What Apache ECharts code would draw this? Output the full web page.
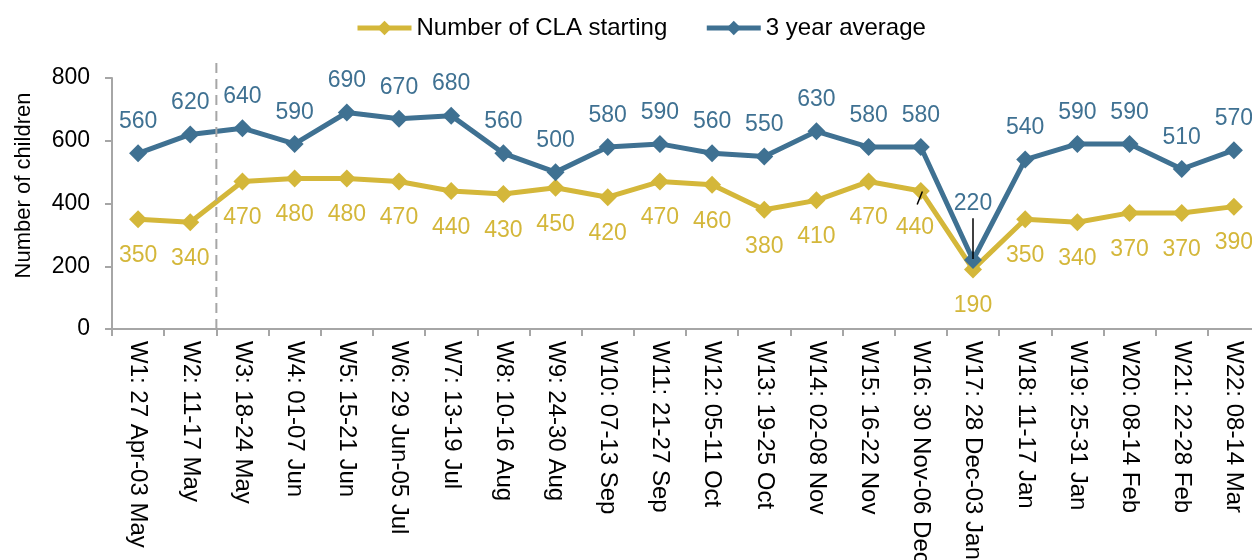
<!DOCTYPE html>
<html>
<head>
<meta charset="utf-8">
<script src="https://cdn.jsdelivr.net/npm/echarts@6/dist/echarts.min.js"></script>
<style>
html,body{margin:0;padding:0;background:#fff;}
#chart{width:1252px;height:560px;}
</style>
</head>
<body>
<div id="chart"></div>
<script>
const categories = ["W1: 27 Apr-03 May","W2: 11-17 May","W3: 18-24 May","W4: 01-07 Jun","W5: 15-21 Jun","W6: 29 Jun-05 Jul","W7: 13-19 Jul","W8: 10-16 Aug","W9: 24-30 Aug","W10: 07-13 Sep","W11: 21-27 Sep","W12: 05-11 Oct","W13: 19-25 Oct","W14: 02-08 Nov","W15: 16-22 Nov","W16: 30 Nov-06 Dec","W17: 28 Dec-03 Jan","W18: 11-17 Jan","W19: 25-31 Jan","W20: 08-14 Feb","W21: 22-28 Feb","W22: 08-14 Mar"];
const claStarting = [350,340,470,480,480,470,440,430,450,420,470,460,380,410,470,440,190,350,340,370,370,390];
const threeYearAvg = [560,620,640,590,690,670,680,560,500,580,590,560,550,630,580,580,220,540,590,590,510,570];
const yTicks = [0,200,400,600,800];
// annotation lines in data units: [x0, y0, x1, y1]
const dividerLine = [1.5, 848, 1.5, 0];
const leaderLines = [[14.93, 397, 15.03, 438], [16, 223, 16, 353]];

const FONT = 'Liberation Sans, Arial, sans-serif';
const YELLOW = '#D4B73A';
const BLUE = '#3F7192';
const AXIS = '#A6A6A6';

const yellowData = claStarting.map((v,i)=>{
  if (i === 15) return {value:v, label:{offset:[-6,0]}};
  return v;
});
const blueData = threeYearAvg.map((v,i)=>{
  if (i === 16) return {value:v, label:{distance:36}};
  return v;
});

const annotationData = [dividerLine.concat([0])].concat(leaderLines.map(l=>l.concat([1])));

const chart = echarts.init(document.getElementById('chart'), null, {renderer:'canvas'});
chart.setOption({
  animation:false,
  textStyle:{fontFamily:FONT},
  legend:{
    left:355, top:16, padding:0,
    itemWidth:54, itemHeight:18, itemGap:37,
    lineStyle:{width:5},
    textStyle:{fontSize:24, color:'#000', fontFamily:FONT},
    data:['Number of CLA starting','3 year average']
  },
  grid:{left:112, top:78, width:1148, height:251, containLabel:false, outerBoundsMode:'none'},
  xAxis:[{
    type:'category',
    data:categories,
    boundaryGap:true,
    axisLine:{lineStyle:{color:AXIS, width:2}},
    axisTick:{show:true, length:7, inside:false, alignWithLabel:false, lineStyle:{color:AXIS, width:2}},
    axisLabel:{interval:0, rotate:-90, margin:12, fontSize:24, color:'#000', fontFamily:FONT},
    splitLine:{show:false}
  },{
    type:'value', min:-0.5, max:21.5, show:false, splitLine:{show:false}
  }],
  yAxis:{
    type:'value', min:yTicks[0], max:yTicks[yTicks.length-1], interval:200,
    name:'Number of children', nameLocation:'middle', nameGap:77, nameRotate:90,
    nameTextStyle:{fontSize:22, color:'#000', fontFamily:FONT, padding:[0,0,0,36]},
    axisLine:{show:true, onZero:false, lineStyle:{color:AXIS, width:2}},
    axisTick:{show:true, length:7, lineStyle:{color:AXIS, width:2}},
    axisLabel:{fontSize:23, color:'#000', margin:22, fontFamily:FONT},
    splitLine:{show:false}
  },
  series:[{
    name:'Number of CLA starting',
    type:'line',
    data:yellowData,
    symbol:'diamond', symbolSize:18,
    lineStyle:{color:YELLOW, width:5},
    itemStyle:{color:YELLOW},
    label:{show:true, position:'bottom', distance:16, fontSize:23, color:YELLOW, fontFamily:FONT},
    z:2
  },{
    name:'3 year average',
    type:'line',
    data:blueData,
    symbol:'diamond', symbolSize:18,
    lineStyle:{color:BLUE, width:5},
    itemStyle:{color:BLUE},
    label:{show:true, position:'top', distance:11, fontSize:23, color:BLUE, fontFamily:FONT},
    z:3
  },{
    name:'annotations',
    type:'custom',
    xAxisIndex:1, yAxisIndex:0,
    clip:false,
    silent:true,
    data:annotationData,
    encode:{x:[0,2], y:[1,3]},
    renderItem:function(params, api){
      const p0 = api.coord([api.value(0), api.value(1)]);
      const p1 = api.coord([api.value(2), api.value(3)]);
      const kind = api.value(4);
      return {
        type:'line',
        shape:{x1:p0[0], y1:p0[1], x2:p1[0], y2:p1[1]},
        style: kind === 0
          ? {stroke:AXIS, lineWidth:2, lineDash:[10,6]}
          : {stroke:'#000', lineWidth:1.5}
      };
    },
    z:4
  }]
});
</script>
</body>
</html>
